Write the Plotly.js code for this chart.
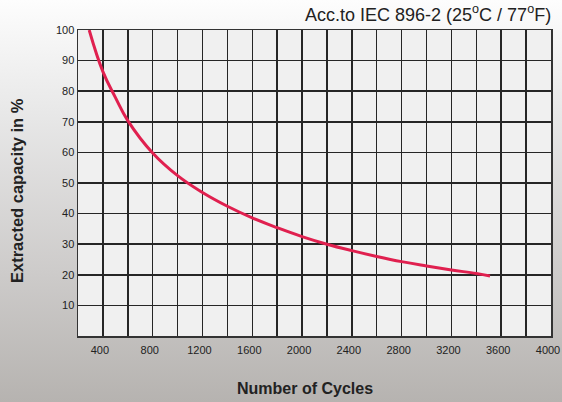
<!DOCTYPE html>
<html>
<head>
<meta charset="utf-8">
<script src="https://cdn.plot.ly/plotly-3.0.1.min.js"></script>
<style>
html,body{margin:0;padding:0;}
body{width:562px;height:402px;overflow:hidden;
background:linear-gradient(to bottom,#fdfdfd 0%,#e8e8e8 28%,#cdcbca 68%,#b6b3b0 100%);}
#chart{width:562px;height:402px;}
</style>
</head>
<body>
<div id="chart"></div>
<script>
const cycles = [290, 400, 500, 600, 800, 1000, 1200, 1400, 1600, 1800, 2000, 2200, 2400, 2600, 2800, 3000, 3200, 3400, 3510];
const capacity = [100, 86.4, 78, 70.4, 59.8, 52.4, 46.9, 42.4, 38.6, 35.4, 32.5, 30.0, 27.9, 26.0, 24.3, 22.9, 21.6, 20.4, 19.6];
const xGridVals = [400, 600, 800, 1000, 1200, 1400, 1600, 1800, 2000, 2200, 2400, 2600, 2800, 3000, 3200, 3400, 3600, 3800, 4000];
const xTickLabels = ['400', '', '800', '', '1200', '', '1600', '', '2000', '', '2400', '', '2800', '', '3200', '', '3600', '', '4000'];
const yTickVals = [10, 20, 30, 40, 50, 60, 70, 80, 90, 100];
const titleText = 'Acc.to IEC 896-2 (25<sup>o</sup>C / 77<sup>o</sup>F)';
const xTitle = 'Number of Cycles';
const yTitle = 'Extracted capacity in %';

const trace = {
  x: cycles, y: capacity, type: 'scatter', mode: 'lines',
  line: {color: '#e0204f', width: 3, shape: 'spline', smoothing: 1.2},
  hoverinfo: 'skip'
};
const gridCol = '#262626';
const layout = {
  width: 562, height: 402,
  margin: {l: 78, r: 11, t: 30, b: 66},
  paper_bgcolor: 'rgba(0,0,0,0)',
  plot_bgcolor: '#f0f0f0',
  showlegend: false,
  font: {family: 'Liberation Sans, Arial, sans-serif', color: '#222', size: 11},
  xaxis: {
    range: [200, 4000], tickvals: xGridVals, ticktext: xTickLabels,
    ticks: 'outside', ticklen: 3, tickcolor: 'rgba(0,0,0,0)', ticklabeloverflow: 'allow',
    ticklabelshift: -3,
    showgrid: true, gridcolor: gridCol, gridwidth: 1.5,
    showline: true, mirror: true, linecolor: '#333', linewidth: 1.5, zeroline: false,
    automargin: false,
    tickfont: {size: 11, color: '#222'}
  },
  yaxis: {
    range: [0, 100], tickvals: yTickVals, ticks: '',
    showgrid: true, gridcolor: gridCol, gridwidth: 1.5,
    showline: true, mirror: true, linecolor: '#333', linewidth: 1.5, zeroline: false,
    automargin: false,
    tickfont: {size: 11, color: '#222'}
  },
  annotations: [{
    text: titleText, xref: 'paper', yref: 'paper', x: 1, y: 1, xanchor: 'right', yanchor: 'bottom',
    xshift: 2, yshift: 3, showarrow: false, font: {size: 18, color: '#222'}
  }, {
    text: '<b>' + xTitle + '</b>', xref: 'paper', yref: 'paper', x: 0.48, y: -0.173,
    xanchor: 'center', yanchor: 'middle', showarrow: false, font: {size: 16, color: '#222'}
  }, {
    text: '<b>' + yTitle + '</b>', xref: 'paper', yref: 'paper', x: -0.129, y: 0.477,
    xanchor: 'center', yanchor: 'middle', textangle: -90, showarrow: false, font: {size: 16.5, color: '#222'}
  }]
};
Plotly.newPlot('chart', [trace], layout, {displayModeBar: false, staticPlot: true});
</script>
</body>
</html>
